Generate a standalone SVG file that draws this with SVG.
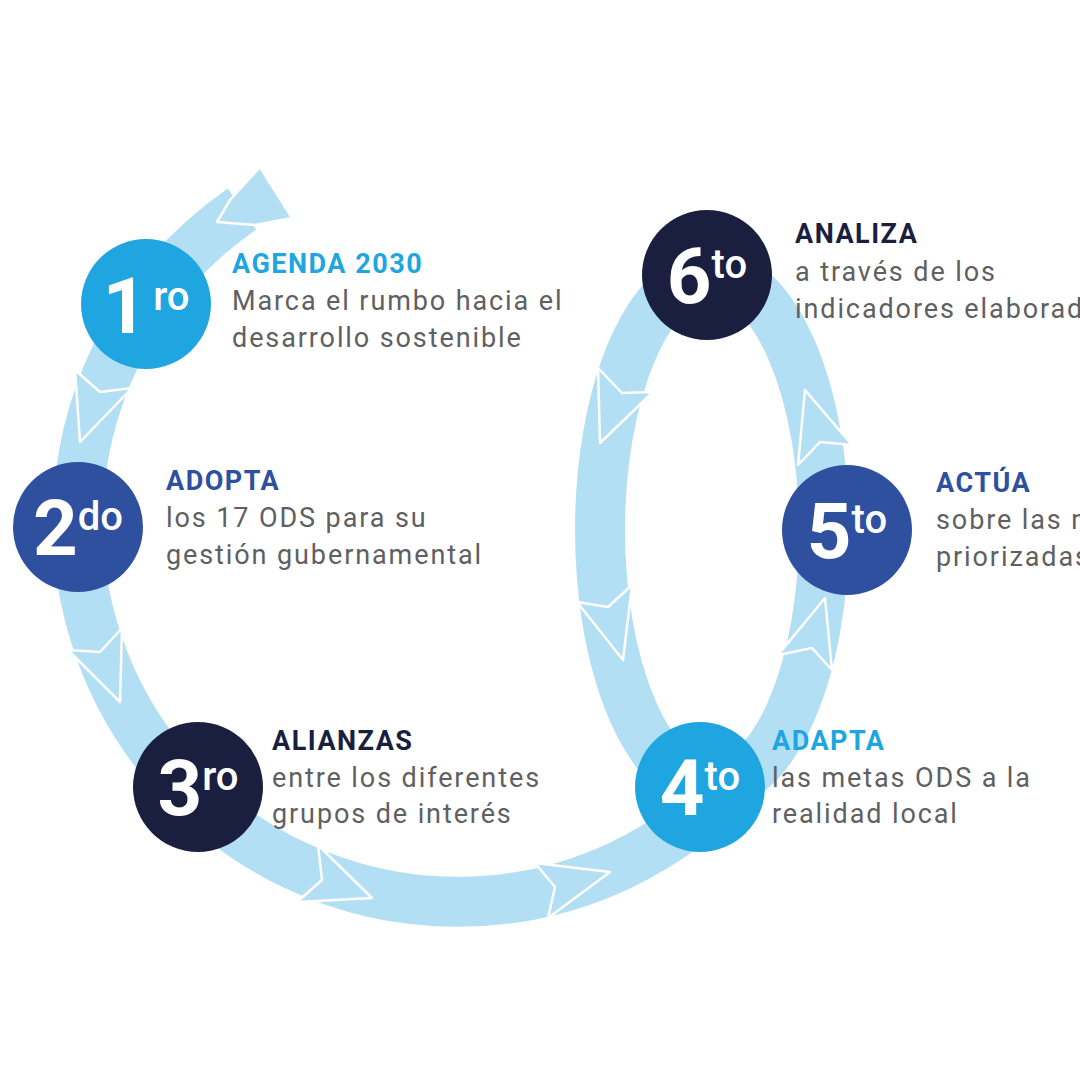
<svg xmlns="http://www.w3.org/2000/svg" width="1080" height="1080" viewBox="0 0 1080 1080">
<style>
.band{fill:none;stroke:#b3dff5;stroke-width:50}
.arr{fill:#b3dff5;stroke:#ffffff;stroke-width:2.5;stroke-linejoin:round}
.c-light{fill:#1fa6e1}
.c-mid{fill:#2f509f}
.c-dark{fill:#1b1f3f}
.num{font-family:Roboto,"Liberation Sans",sans-serif;fill:#ffffff;font-weight:700}
.big{font-size:78px}
.sup{font-size:40px;font-weight:500}
.head{font-family:Roboto,"Liberation Sans",sans-serif;font-weight:700;font-size:27px;letter-spacing:1.5px}
.body{font-family:Roboto,"Liberation Sans",sans-serif;font-weight:400;font-size:27px;letter-spacing:1.9px;fill:#5f6062}
</style>
<rect width="1080" height="1080" fill="#ffffff"/>
<g id="connectors">
<path class="band" d="M242,209 A380,380 0 1 0 742,774"/>
<ellipse class="band" cx="712" cy="530" rx="112" ry="256"/>
<polygon class="arr" points="260,167 292,218 255,225 217,222 230,200"/>
<polygon class="arr" points="75,370 100,392 132,388 80,442"/>
<polygon class="arr" points="122,628 100,652 68,650 120,702"/>
<polygon class="arr" points="318,845 322,880 297,902 372,898"/>
<polygon class="arr" points="535,863 555,887 548,918 610,872"/>
<polygon class="arr" points="598,368 622,393 653,392 600,443"/>
<polygon class="arr" points="632,585 608,607 577,602 623,660"/>
<polygon class="arr" points="805,390 852,445 820,442 798,465"/>
<polygon class="arr" points="825,598 832,670 812,648 778,655"/>
</g>
<g id="node1">
<circle class="c-light" cx="146" cy="304" r="65"/>
<text class="num" x="146" y="333" text-anchor="middle"><tspan class="big">1</tspan><tspan class="sup" dx="6" dy="-23">ro</tspan></text>
<text class="head" x="232" y="273" fill="#1fa6e1">AGENDA 2030</text>
<text class="body" x="232" y="310">Marca el rumbo hacia el</text>
<text class="body" x="232" y="347">desarrollo sostenible</text>
</g>
<g id="node2">
<circle class="c-mid" cx="78" cy="527" r="65"/>
<text class="num" x="78" y="555" text-anchor="middle"><tspan class="big">2</tspan><tspan class="sup" dy="-25">do</tspan></text>
<text class="head" x="166" y="490" fill="#2f509f">ADOPTA</text>
<text class="body" x="166" y="527">los 17 ODS para su</text>
<text class="body" x="166" y="564">gestión gubernamental</text>
</g>
<g id="node3">
<circle class="c-dark" cx="198" cy="787" r="65"/>
<text class="num" x="198" y="815" text-anchor="middle"><tspan class="big">3</tspan><tspan class="sup" dy="-25">ro</tspan></text>
<text class="head" x="272" y="750" fill="#1b1f3f">ALIANZAS</text>
<text class="body" x="272" y="787">entre los diferentes</text>
<text class="body" x="272" y="823">grupos de interés</text>
</g>
<g id="node4">
<circle class="c-light" cx="700" cy="787" r="65"/>
<text class="num" x="700" y="815" text-anchor="middle"><tspan class="big">4</tspan><tspan class="sup" dy="-25">to</tspan></text>
<text class="head" x="772" y="750" fill="#1fa6e1">ADAPTA</text>
<text class="body" x="772" y="787">las metas ODS a la</text>
<text class="body" x="772" y="823">realidad local</text>
</g>
<g id="node5">
<circle class="c-mid" cx="847" cy="530" r="65"/>
<text class="num" x="847" y="558" text-anchor="middle"><tspan class="big">5</tspan><tspan class="sup" dy="-25">to</tspan></text>
<text class="head" x="936" y="492" fill="#2f509f">ACTÚA</text>
<text class="body" x="936" y="529">sobre las m</text>
<text class="body" x="936" y="566">priorizadas</text>
</g>
<g id="node6">
<circle class="c-dark" cx="707" cy="275" r="65"/>
<text class="num" x="707" y="303" text-anchor="middle"><tspan class="big">6</tspan><tspan class="sup" dy="-25">to</tspan></text>
<text class="head" x="795" y="243" fill="#1b1f3f">ANALIZA</text>
<text class="body" x="795" y="281">a través de los</text>
<text class="body" x="795" y="318">indicadores elaborad</text>
</g>
</svg>
